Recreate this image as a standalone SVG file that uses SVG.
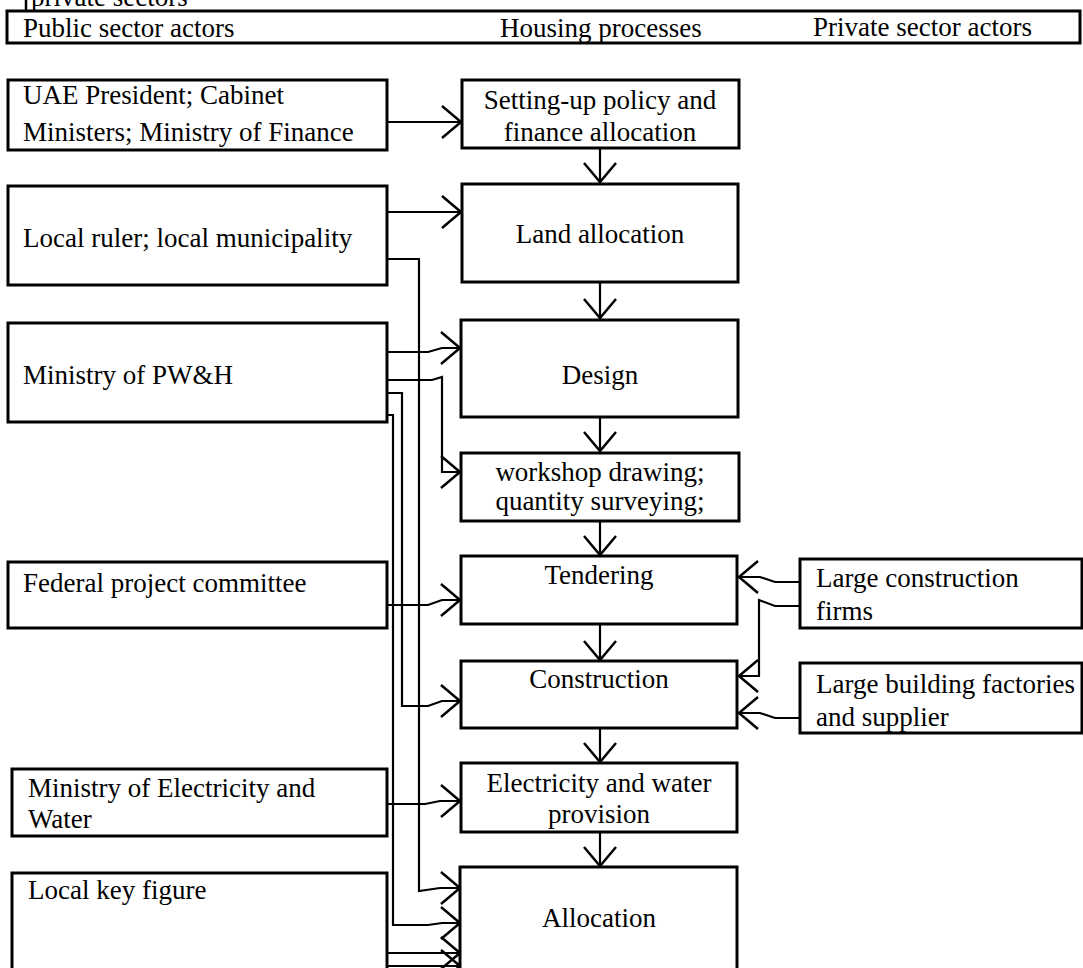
<svg xmlns="http://www.w3.org/2000/svg" width="1083" height="968" viewBox="0 0 1083 968">
<style>
.box{fill:#fff;stroke:#000;stroke-width:3}
.t{font-family:"Liberation Serif","Times New Roman",serif;font-size:27px;fill:#000}
.m{text-anchor:middle}
.c{fill:none;stroke:#000;stroke-width:2.2}
</style>
<defs>
<marker id="ah" markerUnits="userSpaceOnUse" viewBox="-22 -20 26 40" markerWidth="26" markerHeight="40" refX="0" refY="0" orient="auto" overflow="visible">
<path d="M-19,-16 L0,0 L-19,16" fill="none" stroke="#000" stroke-width="2.5"/>
</marker>
</defs>
<rect width="1083" height="968" fill="#fff"/>
<g id="caption">
<line x1="26" y1="0" x2="26" y2="11" stroke="#000" stroke-width="2.5"/>
<text class="t" x="31" y="6">private sectors</text>
</g>
<g id="header">
<rect class="box" x="7" y="11" width="1073" height="32"/>
<text class="t" x="23" y="37">Public sector actors</text>
<text class="t" x="500" y="37">Housing processes</text>
<text class="t" x="813" y="36">Private sector actors</text>
</g>
<g id="connectors" class="c" marker-end="url(#ah)">
<path d="M387,122 H461"/>
<path d="M387,212 H461"/>
<path d="M387,259 H419 V891 L440,888 H460"/>
<path d="M387,352 H428 L442,348 H460"/>
<path d="M387,380 H432 L442,377 V472 H460"/>
<path d="M387,393 H402 V706 H428 L442,701 H460"/>
<path d="M387,415 H393 V925 H428 L442,923 H460"/>
<path d="M387,605 H428 L442,600 H460"/>
<path d="M387,804 H425 L440,801 H460"/>
<path d="M387,953 H460"/>
<path d="M387,966 H460"/>
<path d="M600,148 V182"/>
<path d="M600,282 V318"/>
<path d="M600,417 V451"/>
<path d="M600,521 V555"/>
<path d="M600,624 V660"/>
<path d="M600,728 V762"/>
<path d="M600,832 V866"/>
<path d="M800,582 H775 L760,577 H739"/>
<path d="M800,606 H775 L759,600 V676 H739"/>
<path d="M800,718 H775 L760,713 H739"/>
</g>
<g id="n-uae"><rect class="box" x="8" y="80" width="379" height="70"/>
<text class="t" x="23" y="104">UAE President; Cabinet</text>
<text class="t" x="23" y="141">Ministers; Ministry of Finance</text></g>
<g id="n-localruler"><rect class="box" x="8" y="186" width="379" height="99"/>
<text class="t" x="23" y="247">Local ruler; local municipality</text></g>
<g id="n-pwh"><rect class="box" x="8" y="323" width="379" height="99"/>
<text class="t" x="23" y="384">Ministry of PW&amp;H</text></g>
<g id="n-federal"><rect class="box" x="8" y="562" width="379" height="66"/>
<text class="t" x="23" y="592">Federal project committee</text></g>
<g id="n-mew"><rect class="box" x="12" y="769" width="375" height="67"/>
<text class="t" x="28" y="797">Ministry of Electricity and</text>
<text class="t" x="28" y="828">Water</text></g>
<g id="n-localkey"><rect class="box" x="12" y="873" width="375" height="120"/>
<text class="t" x="28" y="899">Local key figure</text></g>
<g id="p-policy"><rect class="box" x="462" y="80" width="277" height="68"/>
<text class="t m" x="600" y="109">Setting-up policy and</text>
<text class="t m" x="600" y="141">finance allocation</text></g>
<g id="p-land"><rect class="box" x="462" y="184" width="276" height="98"/>
<text class="t m" x="600" y="243">Land allocation</text></g>
<g id="p-design"><rect class="box" x="461" y="320" width="277" height="97"/>
<text class="t m" x="600" y="384">Design</text></g>
<g id="p-workshop"><rect class="box" x="461" y="453" width="278" height="68"/>
<text class="t m" x="600" y="481">workshop drawing;</text>
<text class="t m" x="600" y="510">quantity surveying;</text></g>
<g id="p-tendering"><rect class="box" x="461" y="556" width="276" height="68"/>
<text class="t m" x="599" y="584">Tendering</text></g>
<g id="p-construction"><rect class="box" x="461" y="661" width="276" height="67"/>
<text class="t m" x="599" y="688">Construction</text></g>
<g id="p-electricity"><rect class="box" x="461" y="763" width="276" height="69"/>
<text class="t m" x="599" y="792">Electricity and water</text>
<text class="t m" x="599" y="823">provision</text></g>
<g id="p-allocation"><rect class="box" x="460" y="867" width="277" height="130"/>
<text class="t m" x="599" y="927">Allocation</text></g>
<g id="r-firms"><rect class="box" x="800" y="559" width="282" height="69"/>
<text class="t" x="816" y="587">Large construction</text>
<text class="t" x="816" y="620">firms</text></g>
<g id="r-factories"><rect class="box" x="800" y="663" width="282" height="70"/>
<text class="t" x="816" y="693">Large building factories</text>
<text class="t" x="816" y="726">and supplier</text></g>
</svg>
